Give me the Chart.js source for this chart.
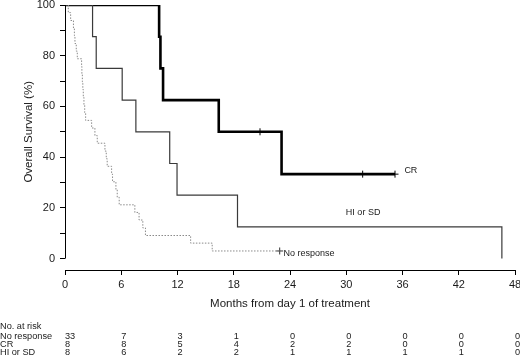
<!DOCTYPE html>
<html>
<head>
<meta charset="utf-8">
<style>
  html, body { margin: 0; padding: 0; background: #fff; }
  #wrap { width: 520px; height: 359px; position: relative; }
</style>
<script src="https://cdn.jsdelivr.net/npm/chart.js@4/dist/chart.umd.min.js"></script>
</head>
<body>
<div id="wrap"><canvas id="km"></canvas></div>
<script>
// Tick labels
const monthTicks = [0, 6, 12, 18, 24, 30, 36, 42, 48];
const survivalTicks = [0, 10, 20, 30, 40, 50, 60, 70, 80, 90, 100];

// CR curve
const crMonths   = [0, 10.04, 10.18, 10.46, 16.4, 23.1, 35.2];
const crSurvival = [100, 87.5, 75, 62.5, 50, 33.3, 33.3];
const crCensorMonths   = [20.8, 31.75, 35.2];
const crCensorSurvival = [50, 33.3, 33.3];

// HI or SD curve
const hiMonths   = [0, 2.94, 3.33, 6.1, 7.56, 11.17, 11.95, 18.4, 46.6];
const hiSurvival = [100, 87.5, 75, 62.5, 50, 37.5, 25, 12.5, 0];

// No response curve
const nrMonths = [0, 0.35, 0.6, 0.9, 1.0, 1.06, 1.2, 1.31, 1.77, 1.8, 1.85, 1.9, 1.95, 2.02, 2.1, 2.2,
  2.84, 3.19, 3.44, 4.26, 4.4, 4.5, 4.97, 5.07, 5.43, 5.57, 5.78, 7.45, 7.9, 8.3, 8.58, 13.4, 15.7, 22.9];
const nrSurvival = [100, 97.0, 93.9, 90.9, 87.9, 84.8, 81.8, 78.8, 75.8, 72.7, 69.7, 66.7, 63.6, 60.6, 57.6, 54.5,
  51.5, 48.5, 45.5, 42.4, 39.4, 36.4, 33.3, 30.3, 27.3, 24.2, 21.2, 18.2, 15.2, 12.1, 9.1, 6.1, 3.0, 3.0];
const nrCensorMonths   = [22.9];
const nrCensorSurvival = [3.0];

// Number at risk table
const riskGroups = ['No response', 'CR', 'HI or SD'];
const nrAtRisk = [33, 7, 3, 1, 0, 0, 0, 0, 0];
const crAtRisk = [8, 8, 5, 4, 2, 2, 0, 0, 0];
const hiAtRisk = [8, 6, 2, 2, 1, 1, 1, 1, 0];

const FONT = "'Liberation Sans', Arial, sans-serif";
const INK = '#1a1a1a';

const pts = (xs, ys) => xs.map((x, i) => ({ x: x, y: ys[i] }));

const extras = {
  id: 'extras',
  afterDraw(chart) {
    const ctx = chart.ctx;
    const x = chart.scales.x, y = chart.scales.y;
    ctx.save();

    // y axis line, only 0..100
    ctx.strokeStyle = '#000';
    ctx.lineWidth = 1;
    ctx.beginPath();
    ctx.moveTo(Math.round(x.getPixelForValue(0)) + 0.5, y.getPixelForValue(100));
    ctx.lineTo(Math.round(x.getPixelForValue(0)) + 0.5, y.getPixelForValue(0));
    ctx.stroke();

    ctx.fillStyle = INK;

    // axis titles
    ctx.font = '11.5px ' + FONT;
    ctx.textAlign = 'center';
    ctx.textBaseline = 'middle';
    ctx.fillText('Months from day 1 of treatment', (x.left + x.right) / 2, 304);
    ctx.save();
    ctx.translate(29, y.getPixelForValue(50));
    ctx.rotate(-Math.PI / 2);
    ctx.fillText('Overall Survival (%)', 0, 0);
    ctx.restore();

    // curve labels
    ctx.font = '9px ' + FONT;
    ctx.textAlign = 'left';
    ctx.fillText('CR', x.getPixelForValue(36.2), y.getPixelForValue(34.8));
    ctx.textAlign = 'center';
    ctx.fillText('HI or SD', x.getPixelForValue(31.8), y.getPixelForValue(18));
    ctx.textAlign = 'left';
    ctx.fillText('No response', x.getPixelForValue(23.3), y.getPixelForValue(2.1));

    // risk table
    ctx.font = '9.2px ' + FONT;
    ctx.textAlign = 'left';
    ctx.fillText('No. at risk', 0, 326);
    const rows = [nrAtRisk, crAtRisk, hiAtRisk];
    const rowY = [336, 344.3, 352.3];
    rows.forEach((row, r) => {
      ctx.fillText(riskGroups[r], 0, rowY[r]);
      row.forEach((n, i) => {
        ctx.fillText(String(n), x.getPixelForValue(monthTicks[i]), rowY[r]);
      });
    });
    ctx.restore();
  }
};

new Chart(document.getElementById('km'), {
  type: 'line',
  data: {
    datasets: [
      {
        data: pts(nrMonths, nrSurvival),
        stepped: 'before',
        borderColor: '#8a8a8a',
        borderWidth: 1,
        borderDash: [1.5, 1.5],
        pointRadius: 0,
        fill: false
      },
      {
        data: pts(hiMonths, hiSurvival),
        stepped: 'before',
        borderColor: '#3a3a3a',
        borderWidth: 1.2,
        pointRadius: 0,
        fill: false
      },
      {
        data: pts(crMonths, crSurvival),
        stepped: 'before',
        borderColor: '#000',
        borderWidth: 2.6,
        pointRadius: 0,
        fill: false
      },
      {
        data: pts(crCensorMonths, crCensorSurvival),
        showLine: false,
        pointStyle: 'cross',
        pointRadius: 3.5,
        pointBorderWidth: 1,
        pointBorderColor: '#000'
      },
      {
        data: pts(nrCensorMonths, nrCensorSurvival),
        showLine: false,
        pointStyle: 'cross',
        pointRadius: 3.5,
        pointBorderWidth: 1,
        pointBorderColor: '#333'
      }
    ]
  },
  options: {
    responsive: true,
    maintainAspectRatio: false,
    animation: false,
    layout: { padding: { left: 0, right: 4, top: 4, bottom: 0 } },
    plugins: { legend: { display: false }, tooltip: { enabled: false } },
    scales: {
      x: {
        type: 'linear',
        min: 0,
        max: 48,
        afterBuildTicks: s => { s.ticks = monthTicks.map(v => ({ value: v })); },
        afterFit: s => { s.height = 89; s.paddingLeft = 0; s.paddingRight = 0; },
        grid: { drawOnChartArea: false, drawTicks: true, tickLength: 5, color: '#000' },
        border: { display: true, color: '#000', width: 1 },
        ticks: { padding: 3, color: INK, font: { family: FONT, size: 11 }, maxRotation: 0 }
      },
      y: {
        type: 'linear',
        min: -4.5,
        max: 100,
        afterBuildTicks: s => { s.ticks = survivalTicks.map(v => ({ value: v })); },
        afterFit: s => { s.width = 65; s.paddingTop = 0; s.paddingBottom = 0; },
        grid: { drawOnChartArea: false, drawTicks: true, tickLength: 5, color: '#000' },
        border: { display: false },
        ticks: {
          padding: 5,
          color: INK,
          font: { family: FONT, size: 11 },
          callback: v => (v % 20 === 0 ? String(v) : '')
        }
      }
    }
  },
  plugins: [extras]
});
</script>
</body>
</html>
